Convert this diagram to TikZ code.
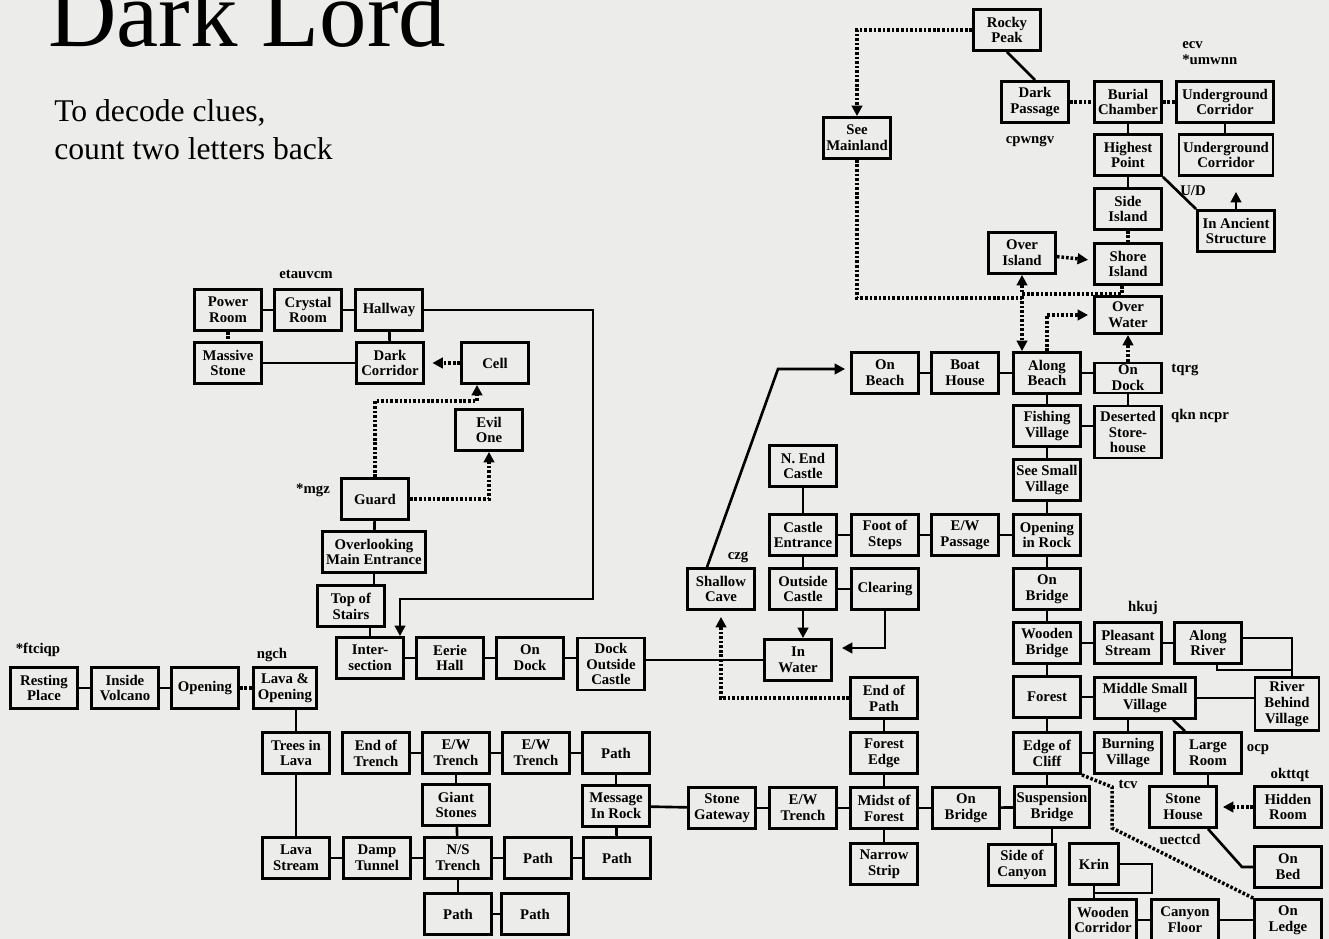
\documentclass[tikz,border=0pt]{standalone}
\usepackage{fontspec}
\setmainfont{Liberation Serif}
\usepackage{xcolor}
\usepackage{tikz}
\usetikzlibrary{arrows.meta}
\usetikzlibrary{calc}
\usetikzlibrary{positioning}
\definecolor{paper}{HTML}{ECECEA}

\begin{document}
\begin{tikzpicture}[x=0.02cm, y=-0.02cm,
    room/.style={draw, line width=1.6pt, fill=paper, minimum width=1.34cm, minimum height=0.82cm, inner sep=1pt, align=center, font=\bfseries\fontsize{8.4}{9}\selectfont},
    clue/.style={font=\bfseries\fontsize{8.4}{9}\selectfont, inner sep=0pt},
    link/.style={line width=1.5pt},
    trail/.style={line width=2pt, dash pattern=on 1.5pt off 1.1pt},
    >={Triangle[length=6pt, width=6pt]}]
    \fill[paper] (0,0) rectangle (1329,939);
    \useasboundingbox (0,0) rectangle (1329,939);

    \node[anchor=base west, inner sep=0pt, font=\fontsize{54}{60}\selectfont] (T) at (48,47) {Dark Lord};
    \node[anchor=base west, inner sep=0pt, font=\fontsize{18}{21}\selectfont] (H1) at (54,122) {To decode clues,};
    \node[anchor=base west, inner sep=0pt, font=\fontsize{18}{21}\selectfont] (H2) at (54,160) {count two letters back};

    \node[room] (PR) at (228,310) {Power\\Room};
    \node[room] (CR) at (308,310) {Crystal\\Room};
    \node[room] (HW) at (389,310) {Hallway};
    \node[room] (MS) at (228,363) {Massive\\Stone};
    \node[room] (DC) at (390,363) {Dark\\Corridor};
    \node[room] (CE) at (495,363) {Cell};
    \node[room] (EO) at (489,430) {Evil\\One};
    \node[room] (GU) at (375,499) {Guard};
    \node[room, minimum width=2.06cm] (OME) at (374,552) {Overlooking\\Main Entrance};
    \node[room] (TS) at (351,606) {Top of\\Stairs};
    \node[room] (IS) at (370,658) {Inter-\\section};
    \node[room] (EH) at (450,658) {Eerie\\Hall};
    \node[room] (OD1) at (530,658) {On\\Dock};
    \node[room, minimum height=1.04cm] (DOC) at (611,664) {Dock\\Outside\\Castle};
    \node[room] (IW) at (798,660) {In\\Water};
    \node[room] (SC) at (721,589) {Shallow\\Cave};
    \node[room] (OC) at (803,589) {Outside\\Castle};
    \node[room] (CL) at (885,589) {Clearing};
    \node[room] (CEN) at (803,535) {Castle\\Entrance};
    \node[room] (NE) at (803,466) {N. End\\Castle};
    \node[room] (FS) at (885,535) {Foot of\\Steps};
    \node[room] (EWP) at (965,535) {E/W\\Passage};
    \node[room] (OB1) at (885,373) {On\\Beach};
    \node[room] (BH) at (965,373) {Boat\\House};
    \node[room] (AB) at (1047,373) {Along\\Beach};
    \node[room, minimum height=0.6cm, inner ysep=0pt] (OD2) at (1128,378) {On\\Dock};
    \node[room] (FV) at (1047,426) {Fishing\\Village};
    \node[room, minimum height=1.04cm] (DS) at (1128,432) {Deserted\\Store-\\house};
    \node[room] (SSV) at (1047,480) {See Small\\Village};
    \node[room] (OR) at (1047,535) {Opening\\in Rock};
    \node[room] (OBR1) at (1047,589) {On\\Bridge};
    \node[room] (WB) at (1047,643) {Wooden\\Bridge};
    \node[room] (PS) at (1128,643) {Pleasant\\Stream};
    \node[room] (AR) at (1208,643) {Along\\River};
    \node[room] (FO) at (1047,697) {Forest};
    \node[room, minimum width=2.02cm] (MSV) at (1145,698) {Middle Small\\Village};
    \node[room, minimum height=1.06cm, minimum width=1.28cm] (RBV) at (1287,704) {River\\Behind\\Village};
    \node[room] (EC) at (1047,753) {Edge of\\Cliff};
    \node[room] (BV) at (1128,753) {Burning\\Village};
    \node[room] (LR) at (1208,753) {Large\\Room};
    \node[room, minimum width=1.5cm] (SB) at (1052,807) {Suspension\\Bridge};
    \node[room] (SH) at (1183,807) {Stone\\House};
    \node[room] (HR) at (1288,807) {Hidden\\Room};
    \node[room] (BED) at (1288,867) {On\\Bed};
    \node[room] (LED) at (1288,920) {On\\Ledge};
    \node[room] (SOC) at (1022,865) {Side of\\Canyon};
    \node[room, minimum width=0.98cm] (KR) at (1094,864) {Krin};
    \node[room] (WC) at (1103,920) {Wooden\\Corridor};
    \node[room] (CF) at (1185,920) {Canyon\\Floor};
    \node[room] (EP) at (884,698) {End of\\Path};
    \node[room] (FE) at (884,753) {Forest\\Edge};
    \node[room] (MF) at (884,808) {Midst of\\Forest};
    \node[room] (NS) at (884,864) {Narrow\\Strip};
    \node[room] (SG) at (722,808) {Stone\\Gateway};
    \node[room] (EW3) at (803,808) {E/W\\Trench};
    \node[room] (OBR2) at (966,808) {On\\Bridge};
    \node[room] (P1) at (616,753) {Path};
    \node[room] (MR) at (616,806) {Message\\In Rock};
    \node[room] (P2) at (538,858) {Path};
    \node[room] (P3) at (617,858) {Path};
    \node[room] (NST) at (458,858) {N/S\\Trench};
    \node[room] (DT) at (377,858) {Damp\\Tunnel};
    \node[room] (LS) at (296,858) {Lava\\Stream};
    \node[room] (TL) at (296,753) {Trees in\\Lava};
    \node[room] (ET) at (376,753) {End of\\Trench};
    \node[room] (EW1) at (456,753) {E/W\\Trench};
    \node[room] (EW2) at (536,753) {E/W\\Trench};
    \node[room] (GS) at (456,805) {Giant\\Stones};
    \node[room] (P4) at (458,914) {Path};
    \node[room] (P5) at (535,914) {Path};
    \node[room] (RP) at (44,688) {Resting\\Place};
    \node[room] (IV) at (125,688) {Inside\\Volcano};
    \node[room] (OP) at (205,688) {Opening};
    \node[room, minimum width=1.26cm] (LO) at (285,688) {Lava \&\\Opening};
    \node[room] (RK) at (1007,30) {Rocky\\Peak};
    \node[room] (SM) at (857,138) {See\\Mainland};
    \node[room] (DP) at (1035,102) {Dark\\Passage};
    \node[room] (BC) at (1128,102) {Burial\\Chamber};
    \node[room, minimum width=1.94cm] (UC1) at (1225,102) {Underground\\Corridor};
    \node[room] (HP) at (1128,155) {Highest\\Point};
    \node[room, minimum width=1.88cm] (UC2) at (1226,155) {Underground\\Corridor};
    \node[room] (SI) at (1128,209) {Side\\Island};
    \node[room, minimum width=1.54cm] (AS) at (1236,231) {In Ancient\\Structure};
    \node[room] (OI) at (1022,253) {Over\\Island};
    \node[room] (SHI) at (1128,264) {Shore\\Island};
    \node[room, minimum height=0.74cm] (OW) at (1128,315) {Over\\Water};

    \node[clue] (K1) at (306,274) {etauvcm};
    \node[clue] (K2) at (313,490) {*mgz};
    \node[clue] (K3) at (738,557) {czg};
    \node[clue] (K4) at (38,650) {*ftciqp};
    \node[clue] (K5) at (272,655) {ngch};
    \node[clue, align=left, anchor=north west] (K6) at (1182,41) {ecv\\*umwnn};
    \node[clue] (K7) at (1030,141) {cpwngv};
    \node[clue] (K8) at (1193,191) {U/D};
    \node[clue] (K9) at (1185,370) {tqrg};
    \node[clue] (K10) at (1200,416) {qkn ncpr};
    \node[clue] (K11) at (1143,608) {hkuj};
    \node[clue] (K12) at (1258,750) {ocp};
    \node[clue] (K13) at (1290,775) {okttqt};
    \node[clue] (K14) at (1128,784) {tcv};
    \node[clue] (K15) at (1180,839) {uectcd};

    \coordinate (hallturn) at (593,599);
    \coordinate (beachturn) at (778,369);
    \coordinate (ledgeA) at (1112,787);
    \coordinate (ledgeB) at (1112,828);
    \coordinate (bedturn) at (1242,867);
    \coordinate (riverturn) at (1292,670);

    \path [link] (PR) edge (CR) (CR) edge (HW) (HW) edge (DC) (MS) edge (DC);
    \path [trail] (PR) edge (MS);
    \path [trail, ->, shorten >=0.15cm] (CE) edge (DC);
    \draw [trail, ->] (GU.north) -- ++(0,-76) -| ($(CE.south)+(-18,0)$);
    \draw [trail, ->] (GU.east) -| (EO.south);
    \path [link] (GU) edge (OME);
    \draw [link] (OME.south) -- (OME.south |- TS.north);
    \draw [link] (IS.north) -- (IS.north |- TS.south);
    \path [link] (IS) edge (EH) (EH) edge (OD1);
    \draw [link] (OD1.east) -- (OD1.east -| DOC.west);
    \draw [link] (IW.west) -- (IW.west -| DOC.east);
    \draw [link, ->] (HW.east) -| (hallturn) -| ($(IS.north)+(30,0)$);

    \path [link] (NE) edge (CEN) (CEN) edge (OC) (CEN) edge (FS) (FS) edge (EWP) (EWP) edge (OR) (OC) edge (CL);
    \draw [link, ->] (OC.south) -- (OC.south |- IW.north);
    \draw [link, ->, shorten >=0.18cm] (CL.south) |- ($(IW.east)+(0,-12)$);
    \draw [trail, ->, shorten >=0.12cm] (EP.west) -| (SC.south);
    \draw [link, ->, shorten >=0.1cm] ($(SC.north)+(-14,0)$) -- (beachturn) -- (beachturn -| OB1.west);

    \path [link] (OB1) edge (BH) (BH) edge (AB) (OD2) edge (DS);
    \draw [link] (AB.east) -- (AB.east -| OD2.west);
    \path [link] (AB) edge (FV) (FV) edge (SSV) (SSV) edge (OR) (OR) edge (OBR1) (OBR1) edge (WB) (WB) edge (FO) (FO) edge (EC);
    \draw [link] (FV.east) -- (FV.east -| DS.west);
    \path [link] (WB) edge (PS) (PS) edge (AR);
    \draw [link] ($(AR.east)+(0,-5)$) -| (riverturn) -| ($(AR.south)+(9,0)$);
    \draw [link] (riverturn) -- (riverturn |- RBV.north);
    \draw [link] (FO.east) -- (FO.east -| MSV.west);
    \draw [link] (MSV.east) -- (MSV.east -| RBV.west);
    \draw [link] (BV.north) -- (BV.north |- MSV.south);
    \draw [link] ($(MSV.south)+(28,0)$) -- ($(LR.north)+(-23,0)$);
    \path [link] (EC) edge (BV);
    \draw [link] (EC.south) -- (EC.south |- SB.north);
    \draw [link] (LR.south) -- (LR.south |- SH.north);
    \path [trail, ->, shorten >=0.1cm] (HR) edge (SH);
    \draw [link] ($(SH.south)+(25,0)$) -- (bedturn) -- (BED.west);
    \draw [trail] (EC.south east) -- (ledgeA) -- (ledgeB) -- (LED.north west);
    \draw [link] (SB.south) -- (SB.south |- SOC.north);
    \draw [link] (KR.south) -- (KR.south |- WC.north);
    \draw [link] (KR.east) -- ++(32,0) |- ($(KR.south)+(0,7)$);
    \path [link] (WC) edge (CF) (CF) edge (LED);
    \path [link] (SB) edge (OBR2) (OBR2) edge (MF) (MF) edge (EW3) (EW3) edge (SG) (SG) edge (MR);
    \path [link] (EP) edge (FE) (FE) edge (MF) (MF) edge (NS);

    \path [link] (RP) edge (IV) (IV) edge (OP);
    \path [trail] (OP) edge (LO);
    \draw [link] (TL.north) -- (TL.north |- LO.south);
    \path [link] (TL) edge (LS) (LS) edge (DT) (DT) edge (NST) (NST) edge (P2) (P2) edge (P3);
    \path [link] (ET) edge (EW1) (EW1) edge (EW2) (EW2) edge (P1);
    \path [link] (EW1) edge (GS) (GS) edge (NST) (P1) edge (MR) (MR) edge (P3) (NST) edge (P4) (P4) edge (P5);

    \draw [trail, ->] (RK.west) -| (SM.north);
    \draw [link] (RK.south) -- (DP.north);
    \path [trail] (DP) edge (BC) (BC) edge (UC1);
    \path [link] (BC) edge (HP) (HP) edge (SI);
    \draw [link] (UC1.south) -- (UC1.south |- UC2.north);
    \draw [link] (HP.south east) -- (AS.north west);
    \draw [link, ->, shorten >=0.3cm] (AS.north) -- (AS.north |- UC2.south);
    \path [trail] (SI) edge (SHI);
    \path [trail, ->, shorten >=0.1cm] (OI) edge (SHI);
    \draw [trail, ->] ($(SHI.south)+(-6,0)$) -- ++(0,8) -| (OI.south);
    \draw [trail, ->] (SM.south) |- ($(AB.north)+(-25,-53)$) -- ($(AB.north)+(-25,0)$);
    \draw [trail, ->, shorten >=0.1cm] (AB.north) |- (OW.west);
    \draw [trail, ->] (OD2.north) -- (OW.south);
  \end{tikzpicture}
\end{document}
